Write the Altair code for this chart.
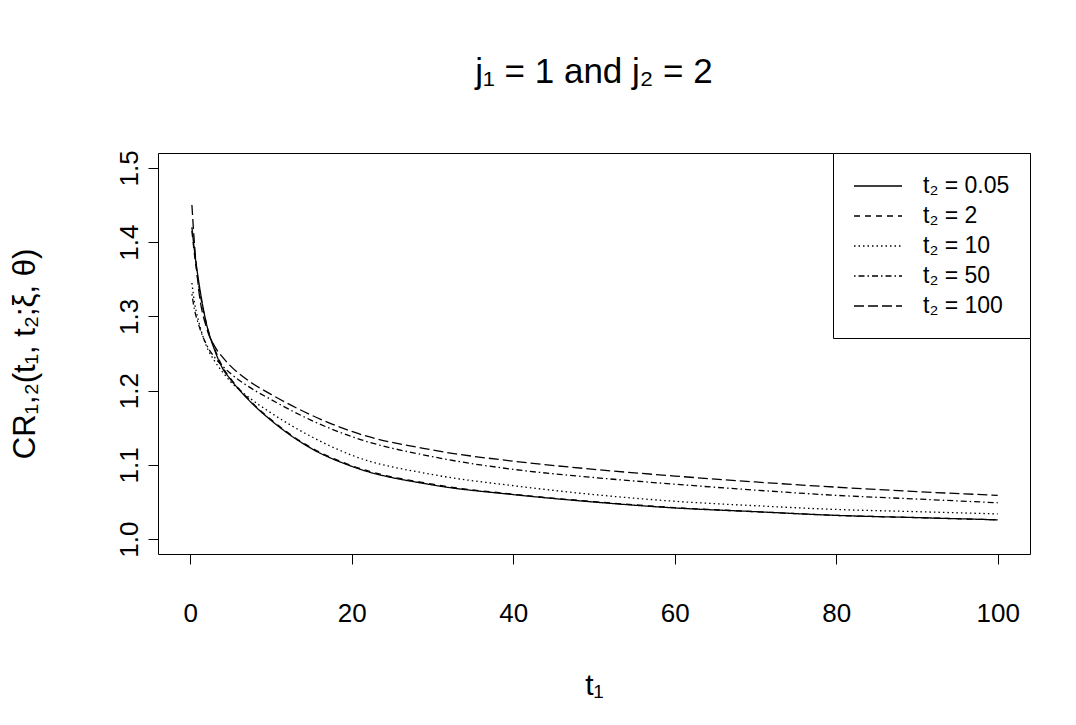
import altair as alt
import pandas as pd

t1 = [0.2, 0.5, 1, 2, 3, 4, 5, 7, 10, 15, 20, 30, 40, 50, 60, 70, 80, 90, 100]

cr_t2_005 = [1.420, 1.390, 1.350, 1.290, 1.255, 1.230, 1.215, 1.190, 1.160, 1.122, 1.098,
             1.073, 1.060, 1.050, 1.042, 1.037, 1.032, 1.029, 1.026]
cr_t2_2 = [1.415, 1.385, 1.345, 1.290, 1.257, 1.232, 1.216, 1.191, 1.161, 1.123, 1.099,
           1.074, 1.0605, 1.0505, 1.0425, 1.037, 1.032, 1.029, 1.026]
cr_t2_10 = [1.345, 1.320, 1.295, 1.260, 1.240, 1.225, 1.212, 1.193, 1.170, 1.138, 1.113,
            1.087, 1.072, 1.060, 1.051, 1.045, 1.040, 1.037, 1.034]
cr_t2_50 = [1.330, 1.310, 1.290, 1.262, 1.245, 1.233, 1.223, 1.207, 1.188, 1.160, 1.138,
            1.111, 1.094, 1.083, 1.074, 1.066, 1.059, 1.054, 1.049]
cr_t2_100 = [1.450, 1.400, 1.340, 1.285, 1.260, 1.245, 1.233, 1.215, 1.195, 1.167, 1.145,
             1.120, 1.105, 1.094, 1.085, 1.077, 1.070, 1.064, 1.059]

series_labels = ["t₂ = 0.05", "t₂ = 2", "t₂ = 10", "t₂ = 50", "t₂ = 100"]
series_values = [cr_t2_005, cr_t2_2, cr_t2_10, cr_t2_50, cr_t2_100]
dash_patterns = [[1, 0], [6, 5], [1.5, 3], [1.5, 3, 6, 3], [10, 4]]

x_ticks = [0, 20, 40, 60, 80, 100]
y_ticks = [1.0, 1.1, 1.2, 1.3, 1.4, 1.5]

rows = []
for lab, vals in zip(series_labels, series_values):
    for t, v in zip(t1, vals):
        rows.append({"t1": t, "cr": v, "series": lab})
df = pd.DataFrame(rows)

FONT = "Liberation Sans"
W, H = 872, 401

chart = alt.Chart(df).mark_line(
    color="black", strokeWidth=1.3, interpolate="monotone"
).encode(
    x=alt.X(
        "t1:Q",
        scale=alt.Scale(domain=[-4, 104], nice=False, zero=False),
        axis=alt.Axis(
            values=x_ticks, title="t₁", grid=False, domain=False,
            tickSize=10, tickColor="black", labelColor="black",
            labelFontSize=26, labelFont=FONT, labelPadding=36,
            titleFontSize=30, titleFont=FONT, titleColor="black",
            titleFontWeight="normal", titleX=W / 2, titleY=131,
            titleBaseline="middle", titleAlign="center",
        ),
    ),
    y=alt.Y(
        "cr:Q",
        scale=alt.Scale(domain=[0.98, 1.52], nice=False, zero=False),
        axis=alt.Axis(
            values=y_ticks, format=".1f", title="CR₁,₂(t₁, t₂;ξ, θ)", grid=False,
            domain=False, tickSize=10, tickColor="black", labelColor="black",
            labelFontSize=26, labelFont=FONT, labelPadding=6, labelAngle=270,
            labelAlign="center", labelBaseline="bottom",
            titleFontSize=31, titleFont=FONT, titleColor="black",
            titleFontWeight="normal", titleX=-133, titleY=H / 2,
            titleBaseline="middle", titleAlign="center", titleAngle=270,
        ),
    ),
    strokeDash=alt.StrokeDash(
        "series:N",
        scale=alt.Scale(domain=series_labels, range=dash_patterns),
        legend=alt.Legend(
            title=None, orient="top-right", offset=0, padding=20,
            strokeColor="black", fillColor="white",
            symbolType="M-2,0H2", symbolSize=576, symbolStrokeWidth=1.3,
            symbolStrokeColor="black", symbolFillColor="transparent",
            symbolOffset=12, labelFontSize=23,
            labelFont=FONT, labelColor="black", labelOffset=32, rowPadding=5,
        ),
    ),
).properties(
    width=W,
    height=H,
    title=alt.TitleParams(
        text="j₁ = 1 and j₂ = 2", fontSize=35, font=FONT, color="black",
        fontWeight="normal", anchor="middle", offset=60,
    ),
    autosize=alt.AutoSizeParams(type="none"),
    padding={"left": 150, "top": 145, "right": 30, "bottom": 150},
    background="white",
).configure_view(
    stroke="black", strokeWidth=1
)

chart.save("out.html", embed_options={"renderer": "svg", "actions": False})
